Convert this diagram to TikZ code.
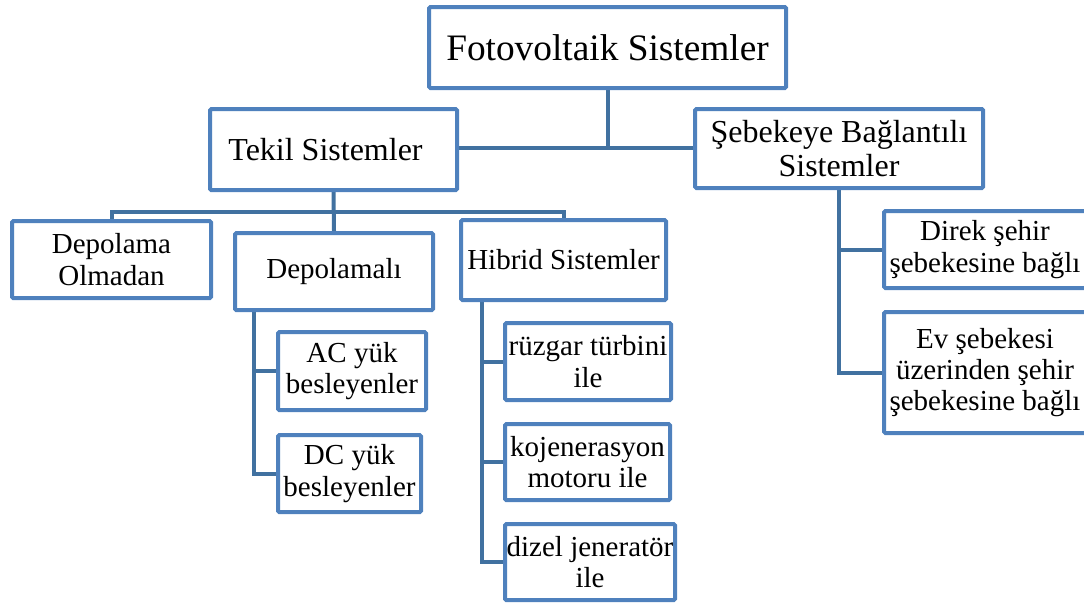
\documentclass[tikz,border=0pt]{standalone}
\usepackage{fontspec}
\usetikzlibrary{backgrounds}
\setmainfont{Liberation Serif}
\definecolor{boxline}{RGB}{79,129,189}
\definecolor{linkline}{RGB}{65,113,160}
\tikzset{
  box/.style={draw=boxline, line width=3pt, fill=white, rounded corners=1pt,
    inner sep=0pt, align=center, text=black},
  toptext/.style={font=\fontsize{28}{32}\selectfont},
  midtext/.style={font=\fontsize{24}{25}\selectfont},
  lowtext/.style={font=\fontsize{21.75}{23.5}\selectfont},
  link/.style={draw=linkline, line width=3pt}
}
\begin{document}
\begin{tikzpicture}[x=0.75pt, y=-0.75pt]
\useasboundingbox (0,0) rectangle (1084,608);
\clip (0,0) rectangle (1084,608);

% boxes
\node[box, toptext, minimum width=267.75pt, minimum height=60.75pt] (root) at (607.5,47.5) {Fotovoltaik Sistemler};
\node[box, midtext, minimum width=185.25pt, minimum height=60.75pt] (tekil) at (333.5,149.5) {Tekil Sistemler\hspace*{12pt}};
\node[box, midtext, minimum width=216pt, minimum height=59.25pt] (seb) at (839,148.5) {Şebekeye Bağlantılı\\Sistemler};
\node[box, lowtext, minimum width=149.25pt, minimum height=57.75pt] (depo0) at (111.5,259.5) {Depolama\\Olmadan};
\node[box, lowtext, minimum width=148.5pt, minimum height=57.75pt] (depo1) at (334,271.5) {Depolamalı};
\node[box, lowtext, minimum width=153.75pt, minimum height=60pt] (hib) at (563.5,260) {Hibrid Sistemler};
\node[box, lowtext, minimum width=111pt, minimum height=58.5pt] (ac) at (352,371) {AC yük\\besleyenler};
\node[box, lowtext, minimum width=107.25pt, minimum height=57.75pt] (dc) at (349.5,473.5) {DC yük\\besleyenler};
\node[box, lowtext, minimum width=124.5pt, minimum height=57.75pt] (rz) at (588,361.5) {rüzgar türbini\\ile};
\node[box, lowtext, minimum width=123.75pt, minimum height=57pt] (kj) at (587.5,462) {kojenerasyon\\motoru ile};
\node[box, lowtext, minimum width=127.5pt, minimum height=57pt] (dz) at (590,562) {dizel jeneratör\\ile};
\node[box, lowtext, minimum width=151.5pt, minimum height=57.75pt] (dr) at (985,249.5) {Direk şehir\\şebekesine bağlı};
\node[box, lowtext, minimum width=151.5pt, minimum height=90.75pt] (ev) at (985,372.5) {Ev şebekesi\\üzerinden şehir\\şebekesine bağlı};

% connectors, kept behind the boxes
\coordinate (j0) at (608,148);
\coordinate (bus) at (333,212);
\coordinate (d1s) at (254,0);
\coordinate (h1s) at (482,0);
\begin{scope}[on background layer]
\path[link] (root.south -| j0) -- (j0);
\path[link] (tekil.east |- j0) -- (seb.west |- j0);
\path[link] (tekil.south) -- (depo1.north);
\path[link] (depo0.north) -- (depo0.north |- bus) -- (hib.north |- bus) -- (hib.north);
\path[link] (depo1.south -| d1s) |- (dc.west);
\path[link] (d1s |- ac.west) -- (ac.west);
\path[link] (hib.south -| h1s) |- (dz.west);
\path[link] (h1s |- rz.west) -- (rz.west);
\path[link] (h1s |- kj.west) -- (kj.west);
\path[link] (seb.south) |- (ev.west);
\path[link] (seb.south |- dr.west) -- (dr.west);
\end{scope}
\end{tikzpicture}
\end{document}
